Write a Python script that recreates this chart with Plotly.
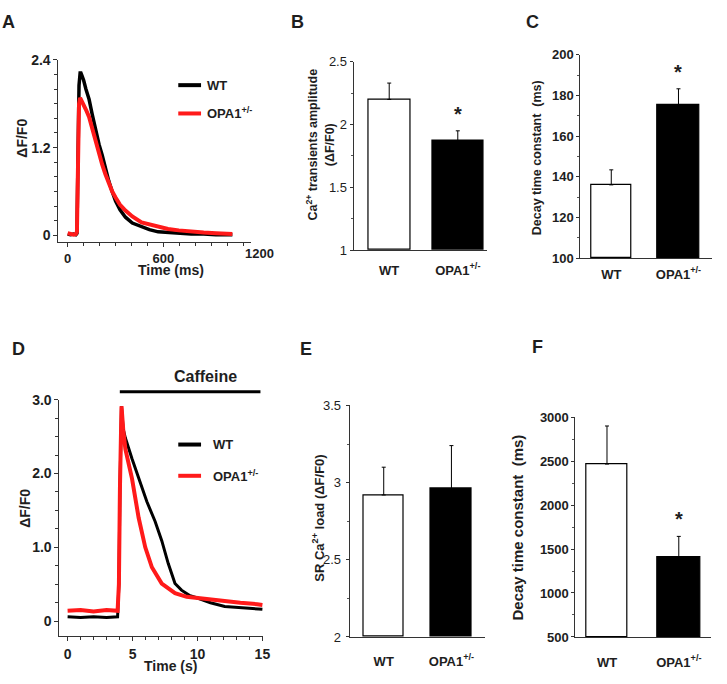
import plotly.graph_objects as go

W, H = 727, 684
FONT = "Liberation Sans, Arial, sans-serif"
INK = "#1e1e1e"

# ---------------- data ----------------
# Panel A: Ca2+ transients (time in ms, dF/F0)
a_time = [0, 17, 37, 51, 58, 62, 66, 71, 78, 83, 90, 100, 114, 134, 153, 176, 197, 216, 236,
          258, 279, 300, 328, 362, 405, 463, 512, 567, 629, 696, 774, 852, 929, 1032]
a_wt = [0.02, 0.01, 0.02, 0.01, 0.03, 0.6, 1.5, 2.05, 2.22, 2.22, 2.18, 2.12, 2.0, 1.86, 1.66,
        1.41, 1.24, 1.10, 0.92, 0.74, 0.60, 0.47, 0.35, 0.25, 0.17, 0.12, 0.08, 0.05, 0.04,
        0.03, 0.02, 0.02, 0.01, 0.01]
a_opa = [0.03, 0.02, 0.01, 0.02, 0.05, 0.6, 1.4, 1.8, 1.88, 1.86, 1.82, 1.78, 1.72, 1.62, 1.46,
         1.28, 1.12, 0.97, 0.84, 0.70, 0.60, 0.52, 0.42, 0.34, 0.26, 0.18, 0.15, 0.12, 0.09,
         0.07, 0.05, 0.04, 0.03, 0.02]
a_ticks = [0, 600, 1200]

# Panel D: caffeine-induced transients (time in s, dF/F0)
d_time_wt = [0, 1, 2, 3, 3.85, 3.95, 4.03, 4.15, 4.28, 4.45, 4.96, 5.6, 6.1, 6.74, 7.25, 7.75,
             8.27, 8.77, 9.37, 10.05, 11, 12.1, 13.3, 14.6, 15]
d_wt = [0.06, 0.05, 0.06, 0.05, 0.06, 0.5, 1.8, 2.91, 2.6, 2.48, 2.2, 1.89, 1.62, 1.35, 1.09,
        0.78, 0.51, 0.42, 0.35, 0.31, 0.25, 0.20, 0.18, 0.16, 0.16]
d_time_opa = [0, 1, 2, 3, 3.85, 3.95, 4.03, 4.15, 4.28, 4.45, 4.96, 5.47, 5.98, 6.49, 7.25,
              8.27, 9.17, 10.05, 11, 12.1, 13.3, 14.6, 15]
d_opa = [0.14, 0.15, 0.13, 0.15, 0.14, 0.5, 1.8, 2.91, 2.6, 2.33, 1.93, 1.40, 1.0, 0.73, 0.51,
         0.38, 0.33, 0.31, 0.29, 0.27, 0.25, 0.23, 0.22]
caffeine_start, caffeine_end = 4.02, 14.85

groups = ["WT", "OPA1<sup>+/-</sup>"]
b_vals, b_err = [2.20, 1.87], [0.13, 0.08]
c_vals, c_err = [136, 175.3], [7.4, 8.0]
e_vals, e_err = [2.92, 2.96], [0.18, 0.28]
f_vals, f_err = [2467, 1411], [433, 233]

# ---------------- layout helpers (arguments are page pixels) ----------------
def xdom(a, b):
    return [a / W, b / W]

def ydom(top, bottom):
    return [1 - bottom / H, 1 - top / H]

def px(x, y):
    return x / W, 1 - y / H

def lin(v, rng, dom):
    return dom[0] + (v - rng[0]) / (rng[1] - rng[0]) * (dom[1] - dom[0])

A_XR, A_XD = [-58, 1146], [59, 253]
D_XR, D_XD = [-0.63, 15.08], [60, 266]

fig = go.Figure()

def tf(size, bold):
    return dict(family=FONT, size=size, color=INK, weight="bold" if bold else "normal")

def axis_common(**kw):
    d = dict(showline=True, linecolor="#333", linewidth=1, showgrid=False, zeroline=False,
             mirror=False, tickcolor="#333")
    d.update(kw)
    return d

# Panel A traces
fig.add_trace(go.Scatter(x=a_time, y=a_wt, mode="lines", line=dict(color="black", width=3.5),
                         xaxis="x", yaxis="y", showlegend=False))
fig.add_trace(go.Scatter(x=a_time, y=a_opa, mode="lines", line=dict(color="#ff1a1a", width=4),
                         xaxis="x", yaxis="y", showlegend=False))

# Panel D traces
fig.add_trace(go.Scatter(x=d_time_wt, y=d_wt, mode="lines", line=dict(color="black", width=3),
                         xaxis="x4", yaxis="y4", showlegend=False))
fig.add_trace(go.Scatter(x=d_time_opa, y=d_opa, mode="lines", line=dict(color="#ff1a1a", width=4),
                         xaxis="x4", yaxis="y4", showlegend=False))

# Bar panels
def add_bars(vals, errs, xa, ya, base, widths):
    fig.add_trace(go.Bar(
        x=[0, 1], y=[v - base for v in vals], base=base, width=widths,
        marker=dict(color=["white", "black"], line=dict(color="black", width=1.2)),
        error_y=dict(type="data", symmetric=False, array=errs, arrayminus=[0, 0],
                     color="black", thickness=1, width=2),
        xaxis=xa, yaxis=ya, showlegend=False))

add_bars(b_vals, b_err, "x2", "y2", 1, [0.61, 0.75])
add_bars(c_vals, c_err, "x3", "y3", 100, [0.60, 0.63])
add_bars(e_vals, e_err, "x5", "y5", 2, [0.60, 0.61])
add_bars(f_vals, f_err, "x6", "y6", 500, [0.58, 0.59])

def cat_axis(standoff):
    return dict(tickvals=[0, 1], ticktext=groups, ticks="", ticklabelstandoff=standoff,
                tickfont=tf(13, True))

fig.update_layout(
    width=W, height=H, margin=dict(l=0, r=0, t=0, b=0),
    paper_bgcolor="white", plot_bgcolor="white", showlegend=False,
    bargap=0,
    # A
    xaxis=axis_common(domain=xdom(*A_XD), range=A_XR, anchor="y",
                      tickvals=a_ticks[:2], ticks="outside", ticklen=4, ticklabelstandoff=0,
                      minor=dict(dtick=100, ticks="outside", ticklen=3, tickcolor="#333"),
                      tickfont=tf(13, True)),
    yaxis=axis_common(domain=ydom(53, 240), range=[-0.094, 2.4], anchor="x",
                      tickvals=[0, 1.2, 2.4], ticktext=["0", "1.2", "2.4"], ticks="outside",
                      ticklen=4, minor=dict(dtick=0.2, ticks="outside", ticklen=3, tickcolor="#333"),
                      tickfont=tf(14, True)),
    # B
    xaxis2=axis_common(domain=xdom(357, 492), range=[-0.52, 1.43], anchor="y2", **cat_axis(8)),
    yaxis2=axis_common(domain=ydom(55, 248), range=[1, 2.5], anchor="x2",
                       tickvals=[1, 1.5, 2, 2.5], ticktext=["1", "1.5", "2", "2.5"],
                       ticks="outside", ticklen=3,
                       minor=dict(dtick=0.25, ticks="outside", ticklen=2, tickcolor="#555"),
                       tickfont=tf(13, False)),
    # C
    xaxis3=axis_common(domain=xdom(586, 719), range=[-0.46, 1.50], anchor="y3", **cat_axis(4)),
    yaxis3=axis_common(domain=ydom(48, 256), range=[100, 200], anchor="x3",
                       tickvals=[100, 120, 140, 160, 180, 200], ticks="outside", ticklen=3,
                       minor=dict(dtick=10, ticks="outside", ticklen=2, tickcolor="#555"),
                       tickfont=tf(13, True)),
    # D
    xaxis4=axis_common(domain=xdom(*D_XD), range=D_XR, anchor="y4",
                       tickvals=[0, 5, 10, 15], ticks="outside", ticklen=4, ticklabelstandoff=1,
                       minor=dict(dtick=1, ticks="outside", ticklen=3, tickcolor="#333"),
                       tickfont=tf(14, True)),
    yaxis4=axis_common(domain=ydom(401, 643), range=[-0.2, 3.0], anchor="x4",
                       tickvals=[0, 1, 2, 3], ticktext=["0", "1.0", "2.0", "3.0"],
                       ticks="outside", ticklen=4,
                       minor=dict(dtick=0.25, ticks="outside", ticklen=3, tickcolor="#333"),
                       tickfont=tf(14, True)),
    # E
    xaxis5=axis_common(domain=xdom(353, 490), range=[-0.504, 1.5], anchor="y5", **cat_axis(12)),
    yaxis5=axis_common(domain=ydom(407, 644), range=[2, 3.5], anchor="x5",
                       tickvals=[2, 2.5, 3, 3.5], ticktext=["2", "2.5", "3", "3.5"],
                       ticks="outside", ticklen=3, ticklabelstandoff=2,
                       minor=dict(dtick=0.25, ticks="outside", ticklen=2, tickcolor="#555"),
                       tickfont=tf(13, False)),
    # F
    xaxis6=axis_common(domain=xdom(581, 718), range=[-0.44, 1.45], anchor="y6", **cat_axis(13)),
    yaxis6=axis_common(domain=ydom(419, 644), range=[500, 3000], anchor="x6",
                       tickvals=[500, 1000, 1500, 2000, 2500, 3000], ticks="outside", ticklen=3,
                       minor=dict(dtick=250, ticks="outside", ticklen=2, tickcolor="#555"),
                       tickfont=tf(13, True)),
)

ann = []

def text(x, y, s, size, bold=True, angle=0, xanchor="center", yanchor="middle", color=INK):
    xp, yp = px(x, y)
    ann.append(dict(x=xp, y=yp, xref="paper", yref="paper", text=s, showarrow=False,
                    textangle=angle, xanchor=xanchor, yanchor=yanchor,
                    font=dict(family=FONT, size=size, color=color,
                              weight="bold" if bold else "normal")))

# last A tick label sits just past the end of the drawn axis line (mapped through A's x scale)
text(lin(a_ticks[2], A_XR, A_XD), 251, str(a_ticks[2]), 13)

# panel letters
for lab, x, y in [("A", 9, 14), ("B", 300, 14), ("C", 538, 14),
                  ("D", 19, 349), ("E", 309, 349), ("F", 543, 347)]:
    text(x, y, lab, 18)

# axis titles
text(22, 133, "ΔF/F0", 14, angle=-90)
text(173, 268, "Time (ms)", 14)
text(324, 140, "Ca<sup>2+</sup> transients amplitude<br>(ΔF/F0)", 12.5, angle=-90)
text(543, 153, "Decay time constant  (ms)", 12.5, angle=-90)
text(25, 512, "ΔF/F0", 14, angle=-90)
text(172, 674, "Time (s)", 14)
text(321, 522, "SR Ca<sup>2+</sup> load (ΔF/F0)", 13, angle=-90)
text(523, 532, "Decay time constant  (ms)", 15, angle=-90)
text(207, 377, "Caffeine", 16)

# stars (data coordinates)
for xa, ya, yv in [("x2", "y2", b_vals[1] + b_err[1]), ("x3", "y3", c_vals[1] + c_err[1]),
                   ("x6", "y6", f_vals[1] + f_err[1])]:
    ann.append(dict(x=1, y=yv, xref=xa, yref=ya, text="*", showarrow=False, yanchor="bottom",
                    yshift=4, font=dict(family=FONT, size=20, color=INK, weight="bold")))

# legends
shapes = []

def legend_item(y, color, label, x0=180, x1=203, tx=207):
    a = px(x0, y)
    b = px(x1, y)
    shapes.append(dict(type="line", xref="paper", yref="paper", x0=a[0], y0=a[1], x1=b[0], y1=b[1],
                       line=dict(color=color, width=4)))
    text(tx, y, label, 13, bold=True, xanchor="left")

legend_item(79, "black", "WT")
legend_item(108, "#ff1a1a", "OPA1<sup>+/-</sup>")
legend_item(447, "black", "WT", tx=213)
legend_item(479, "#ff1a1a", "OPA1<sup>+/-</sup>", tx=213)

# caffeine bar mapped through panel D's x scale
cx0, cy = px(lin(caffeine_start, D_XR, D_XD), 393)
cx1, _ = px(lin(caffeine_end, D_XR, D_XD), 393)
shapes.append(dict(type="line", xref="paper", yref="paper", x0=cx0, x1=cx1, y0=cy, y1=cy,
                   line=dict(color="black", width=3)))

fig.update_layout(annotations=ann, shapes=shapes)
fig.write_html("out.html", config={"displayModeBar": False},
               post_script="document.body.style.margin='0';document.body.style.overflow='hidden';")
